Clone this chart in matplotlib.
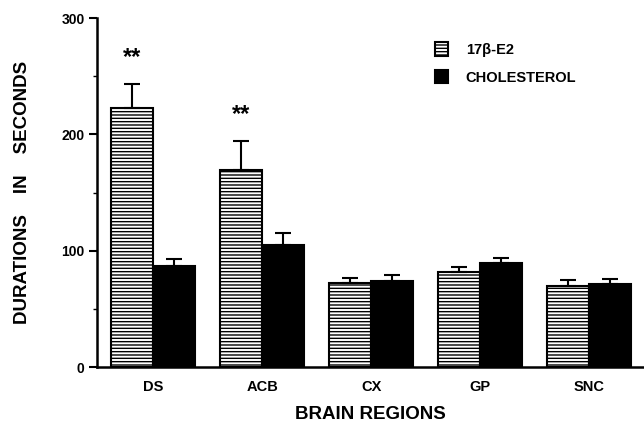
import matplotlib
matplotlib.use("Agg")
import matplotlib.pyplot as plt
import numpy as np

regions = ["DS", "ACB", "CX", "GP", "SNC"]
e2_vals = [223, 169, 72, 82, 70]
e2_err = [20, 25, 4.5, 4, 4.5]
chol_vals = [87, 105, 74, 89, 71]
chol_err = [5.5, 10, 5.5, 5, 5]
sig_labels = ["**", "**", "", "", ""]
sig_y = [266, 217, 0, 0, 0]

plt.rcParams['font.family'] = ['Liberation Sans', 'DejaVu Sans']
plt.rcParams['font.weight'] = 'bold'
plt.rcParams['hatch.linewidth'] = 1.0

fig = plt.figure(figsize=(6.44, 4.24), dpi=100)
ax = fig.add_axes([0.151, 0.1344, 0.849, 0.8231])

x = np.arange(len(regions))
w = 0.385
ax.bar(x - w/2, e2_vals, w, color='white', edgecolor='black', hatch='-----',
       linewidth=1.5, label='17β-E2')
ax.bar(x + w/2, chol_vals, w, color='black', edgecolor='black', linewidth=1.5,
       label='CHOLESTEROL')
ax.errorbar(x - w/2, e2_vals, yerr=[np.zeros(len(x)), e2_err], fmt='none',
            ecolor='black', elinewidth=1.5, capsize=6, capthick=1.5)
ax.errorbar(x + w/2, chol_vals, yerr=[np.zeros(len(x)), chol_err], fmt='none',
            ecolor='black', elinewidth=1.5, capsize=6, capthick=1.5)

for xi, lab, yy in zip(x, sig_labels, sig_y):
    if lab:
        ax.text(xi - w/2, yy, lab, ha='center', va='center', fontsize=17,
                fontweight='bold')

ax.set_xlim(-0.514, 4.505)
ax.set_ylim(0, 300)
ax.set_yticks([0, 100, 200, 300])
ax.set_yticks([50, 150, 250], minor=True)
ax.set_xticks(x)
ax.set_xticklabels(regions, fontsize=10.5, fontweight='bold')
ax.tick_params(axis='y', labelsize=10, width=1.5, length=6, direction='out', pad=3)
ax.tick_params(axis='y', which='minor', width=1, length=3)
ax.tick_params(axis='x', length=0, pad=9)
for lbl in ax.get_yticklabels():
    lbl.set_fontweight('bold')
ax.spines['top'].set_visible(False)
ax.spines['right'].set_visible(False)
ax.spines['left'].set_linewidth(1.8)
ax.spines['bottom'].set_linewidth(1.8)

ax.set_xlabel("BRAIN REGIONS", fontsize=13.5, fontweight='bold', labelpad=9)
ax.set_ylabel("DURATIONS    IN    SECONDS", fontsize=13.5, fontweight='bold',
              labelpad=22)

leg = ax.legend(loc='upper left', bbox_to_anchor=(0.618, 0.93), frameon=False,
                fontsize=10.5, handlelength=0.9, handleheight=1.0,
                handletextpad=1.2, labelspacing=0.9, borderpad=0,
                borderaxespad=0)
for t in leg.get_texts():
    t.set_fontweight('bold')

fig.savefig("out.png", dpi=100)
